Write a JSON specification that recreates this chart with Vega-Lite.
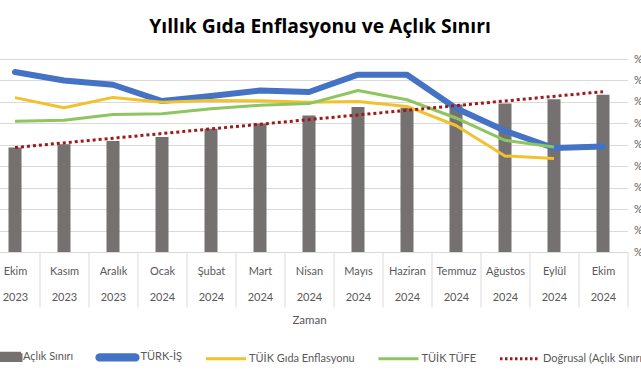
{
  "$schema": "https://vega.github.io/schema/vega-lite/v6.json",
  "autosize": "none",
  "width": 637,
  "height": 193,
  "padding": {"left": -9.5, "top": 59, "right": 13.5, "bottom": 128},
  "background": "white",
  "title": {"text": "Yıllık Gıda Enflasyonu ve Açlık Sınırı", "font": "Open Sans", "fontSize": 19.3, "fontWeight": "bold", "color": "#000000", "anchor": "middle", "offset": 16, "dx": 11},
  "datasets": {
    "aylar": [
      {"idx": 0, "ay": "Ekim 2023", "aclik": 12175, "turkis": 83.9, "gida": 72.0, "tufe": 61.0},
      {"idx": 1, "ay": "Kasım 2023", "aclik": 12550, "turkis": 80.0, "gida": 67.3, "tufe": 61.4},
      {"idx": 2, "ay": "Aralık 2023", "aclik": 12950, "turkis": 78.0, "gida": 72.1, "tufe": 64.1},
      {"idx": 3, "ay": "Ocak 2024", "aclik": 13400, "turkis": 70.4, "gida": 69.8, "tufe": 64.5},
      {"idx": 4, "ay": "Şubat 2024", "aclik": 14375, "turkis": 72.7, "gida": 70.7, "tufe": 66.8},
      {"idx": 5, "ay": "Mart 2024", "aclik": 14975, "turkis": 75.3, "gida": 70.5, "tufe": 68.4},
      {"idx": 6, "ay": "Nisan 2024", "aclik": 15900, "turkis": 74.6, "gida": 69.8, "tufe": 69.2},
      {"idx": 7, "ay": "Mayıs 2024", "aclik": 16900, "turkis": 82.7, "gida": 70.2, "tufe": 75.3},
      {"idx": 8, "ay": "Haziran 2024", "aclik": 16825, "turkis": 82.7, "gida": 67.9, "tufe": 71.0},
      {"idx": 9, "ay": "Temmuz 2024", "aclik": 17200, "turkis": 67.0, "gida": 59.0, "tufe": 62.5},
      {"idx": 10, "ay": "Ağustos 2024", "aclik": 17300, "turkis": 56.5, "gida": 44.8, "tufe": 52.1},
      {"idx": 11, "ay": "Eylül 2024", "aclik": 17800, "turkis": 48.5, "gida": 43.6, "tufe": 49.0},
      {"idx": 12, "ay": "Ekim 2024", "aclik": 18325, "turkis": 49.2, "gida": null, "tufe": null}
    ]
  },
  "data": {"name": "aylar"},
  "encoding": {
    "x": {
      "field": "ay",
      "type": "nominal",
      "scale": {
        "domain": ["Ekim 2023", "Kasım 2023", "Aralık 2023", "Ocak 2024", "Şubat 2024", "Mart 2024", "Nisan 2024", "Mayıs 2024", "Haziran 2024", "Temmuz 2024", "Ağustos 2024", "Eylül 2024", "Ekim 2024"],
        "paddingInner": 0,
        "paddingOuter": 0
      },
      "axis": {
        "title": "Zaman",
        "titleFont": "Lato",
        "titleFontSize": 11.5,
        "titleFontWeight": "normal",
        "titleColor": "#595959",
        "titlePadding": 7,
        "labelAngle": 0,
        "labelExpr": "split(datum.label, ' ')",
        "labelLineHeight": 26,
        "labelFont": "Lato",
        "labelFontSize": 11,
        "labelColor": "#595959",
        "labelPadding": -42,
        "labelOverlap": false,
        "labelFlush": false,
        "labelBound": false,
        "tickBand": "extent",
        "tickSize": 55,
        "tickColor": "#d9d9d9",
        "domainColor": "#d9d9d9",
        "grid": false
      }
    }
  },
  "layer": [
    {
      "mark": {"type": "bar", "size": 13, "color": "#767171"},
      "encoding": {
        "y": {
          "field": "aclik",
          "type": "quantitative",
          "scale": {"domain": [0, 22500], "nice": false, "zero": true},
          "axis": {"orient": "left", "title": null, "values": [0, 2500, 5000, 7500, 10000, 12500, 15000, 17500, 20000, 22500], "grid": true, "gridColor": "#d9d9d9", "domain": false, "ticks": false, "labels": false}
        },
        "color": {
          "datum": "Açlık Sınırı",
          "type": "nominal",
          "scale": {
            "domain": ["Açlık Sınırı", "TÜRK-İŞ", "TÜİK Gıda Enflasyonu", "TÜİK TÜFE", "Doğrusal (Açlık Sınırı)"],
            "range": ["#767171", "#4472C4", "#F2C12E", "#8DC661", "#9E1A1A"]
          },
          "legend": {
            "orient": "none",
            "legendX": -12,
            "legendY": 276,
            "direction": "horizontal",
            "columns": 5,
            "gridAlign": "each",
            "title": null,
            "padding": 0,
            "offset": 0,
            "symbolOffset": 0,
            "symbolSize": 1600,
            "symbolType": "stroke",
            "symbolStrokeWidth": 3,
            "labelOffset": 1.5,
            "columnPadding": 16.5,
            "labelFont": "Lato",
            "labelFontSize": 11,
            "labelLimit": 300,
            "labelColor": "#595959",
            "encode": {
              "symbols": {
                "update": {
                  "shape": {"signal": "datum.value === 'Açlık Sınırı' ? 'M0,-0.18H1.05V0.18H0Z' : datum.value === 'TÜRK-İŞ' ? 'M-0.9,-0.13H0.9A0.13,0.13 0 0 1 0.9,0.13H-0.9A0.13,0.13 0 0 1 -0.9,-0.13Z' : 'stroke'"},
                  "fill": {"signal": "datum.value === 'Açlık Sınırı' ? '#767171' : datum.value === 'TÜRK-İŞ' ? '#4472C4' : 'transparent'"},
                  "stroke": {"signal": "datum.value === 'Açlık Sınırı' || datum.value === 'TÜRK-İŞ' ? 'transparent' : datum.value === 'TÜİK Gıda Enflasyonu' ? '#F2C12E' : datum.value === 'TÜİK TÜFE' ? '#8DC661' : '#9E1A1A'"},
                  "strokeDash": {"signal": "datum.value === 'Doğrusal (Açlık Sınırı)' ? [2.5, 2.5] : [1, 0]"},
                  "opacity": {"value": 1}
                }
              }
            }
          }
        }
      }
    },
    {
      "layer": [
        {
          "mark": {"type": "line", "strokeWidth": 6, "strokeJoin": "round", "strokeCap": "round"},
          "encoding": {
            "y": {"field": "turkis", "type": "quantitative"},
            "color": {"datum": "TÜRK-İŞ", "type": "nominal"}
          }
        },
        {
          "mark": {"type": "line", "strokeWidth": 3, "strokeJoin": "round"},
          "encoding": {
            "y": {"field": "gida", "type": "quantitative"},
            "color": {"datum": "TÜİK Gıda Enflasyonu", "type": "nominal"}
          }
        },
        {
          "mark": {"type": "line", "strokeWidth": 3, "strokeJoin": "round"},
          "encoding": {
            "y": {"field": "tufe", "type": "quantitative"},
            "color": {"datum": "TÜİK TÜFE", "type": "nominal"}
          }
        }
      ],
      "encoding": {
        "y": {
          "type": "quantitative",
          "scale": {"domain": [0, 90], "nice": false},
          "axis": {"orient": "right", "title": null, "values": [0, 10, 20, 30, 40, 50, 60, 70, 80, 90], "grid": false, "domain": false, "ticks": false, "labelPadding": 6, "labelFont": "Lato", "labelFontSize": 11, "labelColor": "#595959", "labelExpr": "'%' + datum.value"}
        }
      }
    },
    {
      "transform": [
        {"regression": "aclik", "on": "idx", "method": "linear"},
        {"lookup": "idx", "from": {"data": {"name": "aylar"}, "key": "idx", "fields": ["ay"]}}
      ],
      "mark": {"type": "line", "strokeWidth": 3, "strokeDash": [3, 3]},
      "encoding": {
        "y": {"field": "aclik", "type": "quantitative", "scale": {"domain": [0, 22500], "nice": false}, "axis": null},
        "color": {"datum": "Doğrusal (Açlık Sınırı)", "type": "nominal"}
      }
    }
  ],
  "resolve": {"scale": {"y": "independent"}},
  "config": {
    "view": {"stroke": null},
    "font": "Lato"
  }
}
